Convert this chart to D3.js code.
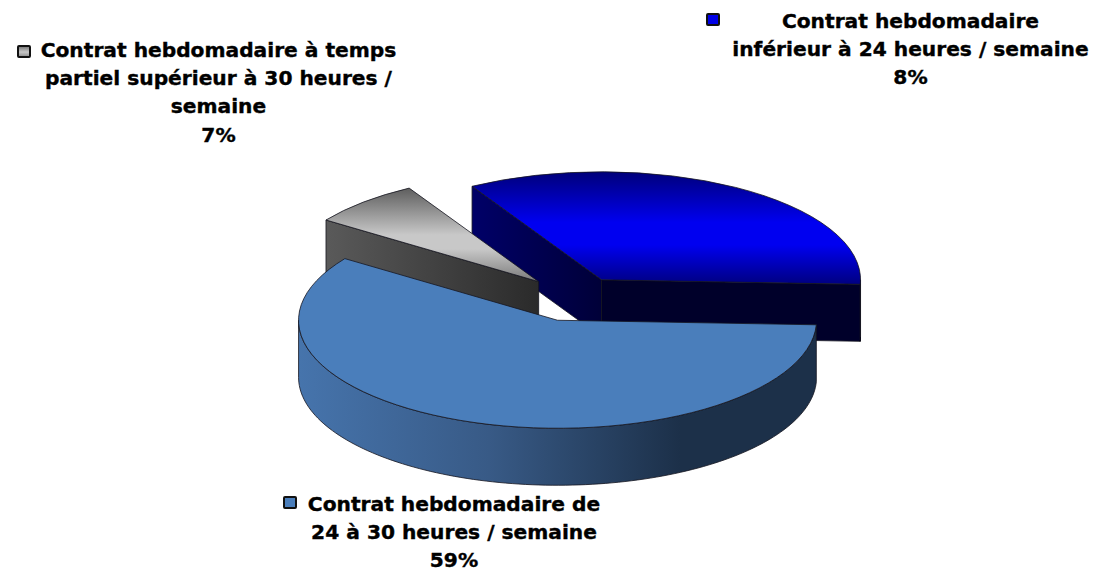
<!DOCTYPE html>
<html>
<head>
<meta charset="utf-8">
<script src="https://cdn.jsdelivr.net/npm/d3@7"></script>
<style>
  html, body { margin: 0; background: #fff; }
  svg { display: block; }
  text { font-family: "DejaVu Sans", Verdana, sans-serif; font-weight: bold; fill: #000; stroke: #000; stroke-width: 0.4; text-anchor: middle; }
</style>
</head>
<body>
<svg id="chart" width="1099" height="573"></svg>
<script>
// slices in clockwise order, starting with the pulled-out blue one
const categories = [
  "Contrat hebdomadaire inférieur à 24 heures / semaine",
  "Contrat hebdomadaire de 24 à 30 heures / semaine",
  "Contrat hebdomadaire à temps partiel supérieur à 30 heures / semaine"
];
// the percentages printed on the labels
const printedPercents = ["8%", "59%", "7%"];
// the share each slice really takes up in the drawing (the printed ones don't add up to 100)
const drawnShares = [34, 59, 7];
const labelLines = [
  ["Contrat hebdomadaire", "inférieur à 24 heures / semaine"],
  ["Contrat hebdomadaire de", "24 à 30 heures / semaine"],
  ["Contrat hebdomadaire à temps", "partiel supérieur à 30 heures /", "semaine"]
];

const svg = d3.select("#chart");
const defs = svg.append("defs");

const cx = 572, cy = 300;
const rx = 259, ry = 108, depth = 57;
const explode = [58, 50, 50];
// small per-slice corrections on top of the radial explode
const nudge = [[-0.5, 0.5], [1.5, 0.5], [0.5, -3]];
const toRad = Math.PI / 180;

const pie = d3.pie().sort(null).startAngle(-30 * toRad).endAngle(330 * toRad);
const slices = pie(drawnShares);
const arc = d3.arc().innerRadius(0).outerRadius(rx);
const line = d3.line();

function addGradient(id, vertical, stops, range) {
  const g = defs.append("linearGradient").attr("id", id);
  if (vertical) {
    g.attr("x1", 0).attr("x2", 0).attr("y1", 0).attr("y2", 1);
  } else {
    g.attr("gradientUnits", "userSpaceOnUse")
      .attr("x1", range[0]).attr("x2", range[1]).attr("y1", 0).attr("y2", 0);
  }
  g.selectAll("stop").data(stops).enter().append("stop")
    .attr("offset", d => d[0])
    .attr("stop-color", d => d[1]);
}

addGradient("blueTop", true, [[0, "#00007a"], [0.45, "#0000f0"], [0.65, "#0000f0"], [1, "#000080"]]);
addGradient("greyTop", true, [[0, "#5e5e5e"], [0.5, "#c8c8c8"], [0.65, "#c8c8c8"], [1, "#7a7a7a"]]);
addGradient("steelTop", true, [[0, "#4a7ebb"], [1, "#4a7ebb"]]);
addGradient("steelWall", false, [[0, "#4674ac"], [0.5, "#385a86"], [1, "#1c3049"]], [299, 680]);
addGradient("greyWall", false, [[0, "#5a5a5a"], [1, "#2a2a2a"]], [325, 540]);
addGradient("blueWall", false, [[0, "#000068"], [1, "#000038"]], [472, 602]);
addGradient("greyKey", true, [[0, "#707070"], [0.55, "#c6c6c6"], [1, "#8a8a8a"]]);

const topFill = ["url(#blueTop)", "url(#steelTop)", "url(#greyTop)"];
const cutFill = ["url(#blueWall)", null, "url(#greyWall)"];
const rimFill = ["#00002a", "url(#steelWall)", null];

function apex(d, i) {
  const mid = (d.startAngle + d.endAngle) / 2;
  return [
    cx + explode[i] * Math.sin(mid) + nudge[i][0],
    cy - explode[i] * (ry / rx) * Math.cos(mid) + nudge[i][1]
  ];
}

function rim(a, o) {
  return [o[0] + rx * Math.sin(a), o[1] - ry * Math.cos(a)];
}

function drawWall(points, fill) {
  svg.append("path")
    .attr("d", line(points) + "Z")
    .attr("fill", fill)
    .attr("stroke", "#15151f")
    .attr("stroke-width", 0.8)
    .attr("stroke-linejoin", "round");
}

// blue first, then grey over its cut face, steel in front of everything
[0, 2, 1].forEach(i => {
  const d = slices[i];
  const o = apex(d, i);

  if (cutFill[i]) {
    const p = rim(d.startAngle, o);
    drawWall([o, p, [p[0], p[1] + depth], [o[0], o[1] + depth]], cutFill[i]);
  }
  if (i === 0) {
    const p = rim(d.endAngle, o);
    drawWall([o, p, [p[0], p[1] + depth], [o[0], o[1] + depth]], "#00002a");
  }
  if (rimFill[i]) {
    const from = Math.max(d.startAngle, Math.PI / 2);
    const to = Math.min(d.endAngle, 1.5 * Math.PI);
    const steps = d3.range(0, 121).map(k => from + (to - from) * k / 120);
    const upper = steps.map(a => rim(a, o));
    const lower = steps.slice().reverse().map(a => {
      const p = rim(a, o);
      return [p[0], p[1] + depth];
    });
    drawWall(upper.concat(lower), rimFill[i]);
  }

  svg.append("path")
    .attr("d", arc(d))
    .attr("transform", `translate(${o[0]},${o[1]}) scale(1,${ry / rx})`)
    .attr("fill", topFill[i])
    .attr("stroke", "#15151f")
    .attr("stroke-width", 0.8)
    .attr("vector-effect", "non-scaling-stroke")
    .attr("stroke-linejoin", "round");
});

// labels with their little colour keys
const labelBoxes = [
  { x: 910.5, y: 28, keyX: 707, keyY: 14 },
  { x: 454, y: 511, keyX: 284, keyY: 497 },
  { x: 218.5, y: 57, keyX: 18, keyY: 46 }
];
const keyFill = ["#0000e6", "#4a7ebb", "url(#greyKey)"];

labelBoxes.forEach((b, i) => {
  svg.append("rect")
    .attr("x", b.keyX).attr("y", b.keyY)
    .attr("width", 12).attr("height", 11)
    .attr("rx", 1)
    .attr("fill", keyFill[i])
    .attr("stroke", "#111")
    .attr("stroke-width", 2);

  const text = svg.append("text").attr("font-size", 20.2);
  labelLines[i].concat(printedPercents[i]).forEach((t, k) => {
    text.append("tspan")
      .attr("x", b.x)
      .attr("y", b.y + k * 28.2)
      .text(t);
  });
});
</script>
</body>
</html>
